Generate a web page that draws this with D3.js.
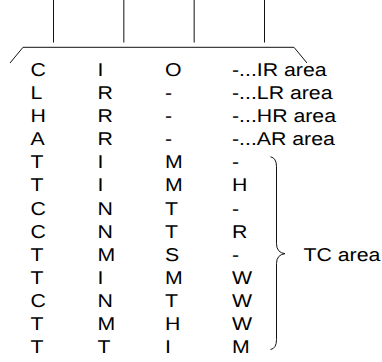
<!DOCTYPE html>
<html>
<head>
<meta charset="utf-8">
<script src="https://cdn.jsdelivr.net/npm/d3@7"></script>
<style>
  html, body { margin: 0; padding: 0; background: #fff; }
  svg { display: block; }
  text { font-family: "Liberation Sans", Arial, Helvetica, sans-serif; fill: #000; text-rendering: geometricPrecision; }
</style>
</head>
<body>
<script>
// ---- data ----
const col1 = ["C","L","H","A","T","T","C","C","T","T","C","T","T"];
const col2 = ["I","R","R","R","I","I","N","N","M","I","N","M","T"];
const col3 = ["O","-","-","-","M","M","T","T","S","M","T","H","I"];
const col4 = ["-...IR area","-...LR area","-...HR area","-...AR area","-","H","-","R","-","W","W","W","M"];
const tracks = [0, 1, 2, 3];          // vertical lines at the top
const braceRows = [4, 12];            // rows grouped by the brace (first, last)
const braceLabel = "TC area";

(function () {
const W = 382, H = 362;
const fs = 18.5, sx = 1.15;

const svg = d3.select("body").append("svg").attr("width", W).attr("height", H);

const rows = d3.range(col1.length);
const y = d3.scalePoint().domain(rows).range([76, 353]);          // baselines
const xCol = d3.scaleOrdinal().domain([0,1,2,3]).range([30.5, 97.5, 165, 232]);
const xTrack = d3.scalePoint().domain(tracks).range([53.5, 264.5]);

const stroke = "#111";

// vertical lines on top
svg.selectAll("line.track").data(tracks).join("line")
  .attr("class", "track")
  .attr("x1", d => xTrack(d)).attr("x2", d => xTrack(d))
  .attr("y1", 0).attr("y2", 42.5)
  .attr("stroke", stroke).attr("stroke-width", 1);

// bracket shape
svg.append("path")
  .attr("d", d3.line()([[10, 63], [23, 47.3], [294, 47.3], [307, 63]]))
  .attr("fill", "none").attr("stroke", stroke).attr("stroke-width", 1);

// table text
const cols = [col1, col2, col3, col4];
cols.forEach((col, ci) => {
  svg.selectAll("text.c" + ci).data(col).join("text")
    .attr("class", "c" + ci)
    .attr("transform", (d, i) => `translate(${xCol(ci)},${y(i)}) scale(${sx},1)`)
    .attr("font-size", fs)
    .text(d => d);
});

// curly brace
const bTop = y(braceRows[0]) - 11.5, bBot = y(braceRows[1]) - 3.5;
const mid = (bTop + bBot) / 2 + 0.5;
const bx0 = 270.5, bx1 = 276.5, tip = 285;
const p = d3.path();
p.moveTo(bx0, bTop);
p.quadraticCurveTo(bx1, bTop + 1, bx1, bTop + 10);
p.lineTo(bx1, mid - 10);
p.quadraticCurveTo(bx1, mid - 1, tip, mid);
p.quadraticCurveTo(bx1, mid + 1, bx1, mid + 10);
p.lineTo(bx1, bBot - 10);
p.quadraticCurveTo(bx1, bBot - 1, bx0, bBot);
svg.append("path").attr("d", p.toString())
  .attr("fill", "none").attr("stroke", stroke).attr("stroke-width", 1);

svg.append("text")
  .attr("transform", `translate(303.5,${y(8) + 0.8}) scale(${sx},1)`)
  .attr("font-size", fs)
  .text(braceLabel);
})();
</script>
</body>
</html>
